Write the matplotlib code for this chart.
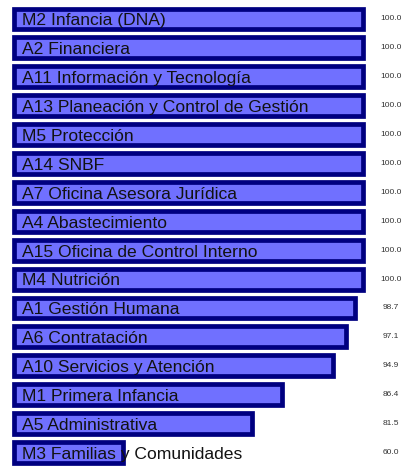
import numpy as np
import matplotlib
matplotlib.use("Agg")
import matplotlib.pyplot as plt

areas = ["M2 Infancia (DNA)", "A2 Financiera", "A11 Información y Tecnología",
         "A13 Planeación y Control de Gestión", "M5 Protección", "A14 SNBF",
         "A7 Oficina Asesora Jurídica", "A4 Abastecimiento",
         "A15 Oficina de Control Interno", "M4 Nutrición", "A1 Gestión Humana",
         "A6 Contratación", "A10 Servicios y Atención", "M1 Primera Infancia",
         "A5 Administrativa", "M3 Familias y Comunidades"]
valores = [100.0, 100.0, 100.0, 100.0, 100.0, 100.0, 100.0, 100.0,
           100.0, 100.0, 98.7, 97.1, 94.9, 86.4, 81.5, 60.0]

base = 41.93
W, H = 407, 466

fig = plt.figure(figsize=(W / 100, H / 100), dpi=100)
ax = fig.add_axes([14.25 / W, (H - 466.95) / H, 349 / W, 462.4 / H])
ax.set_xlim(base, 100)
ax.set_ylim(len(areas) - 0.5, -0.5)
ax.axis("off")

y = np.arange(len(areas))
ax.barh(y, np.array(valores) - base, left=base, height=0.72,
        color="#7070FF", edgecolor="#000080", linewidth=3.4, clip_on=False)

tr = ax.get_yaxis_transform()
for i, (a, v) in enumerate(zip(areas, valores)):
    ax.text(0.021, i + 0.22, a, transform=tr, va="baseline", ha="left",
            fontsize=12.6, family="Liberation Sans", color="#111111", clip_on=False)
    ax.text(1.0795, i, f"{v:.1f}", transform=tr, va="center", ha="center",
            fontsize=6, family="Liberation Sans", color="#333333", clip_on=False)

fig.savefig("out.png", dpi=100)
